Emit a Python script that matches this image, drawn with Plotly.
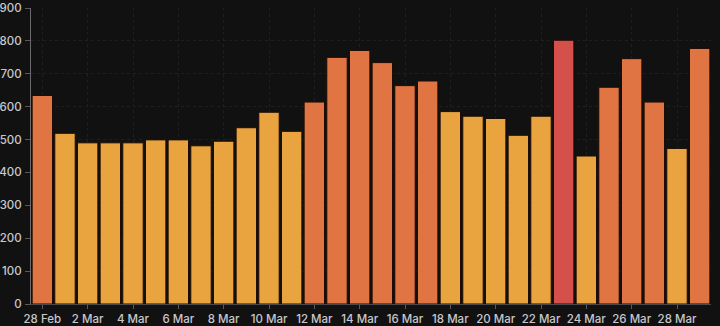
import plotly.graph_objects as go

# Daily totals, 28 Feb - 29 Mar
dates = [
    "2025-02-28", "2025-03-01", "2025-03-02", "2025-03-03", "2025-03-04",
    "2025-03-05", "2025-03-06", "2025-03-07", "2025-03-08", "2025-03-09",
    "2025-03-10", "2025-03-11", "2025-03-12", "2025-03-13", "2025-03-14",
    "2025-03-15", "2025-03-16", "2025-03-17", "2025-03-18", "2025-03-19",
    "2025-03-20", "2025-03-21", "2025-03-22", "2025-03-23", "2025-03-24",
    "2025-03-25", "2025-03-26", "2025-03-27", "2025-03-28", "2025-03-29",
]
values = [
    634, 519, 490, 490, 490, 499, 499, 481, 495, 536,
    583, 525, 614, 750, 771, 734, 664, 678, 585, 571,
    564, 513, 571, 802, 450, 659, 746, 614, 473, 777,
]

# Threshold colouring
YELLOW = "#E9A43F"
ORANGE = "#E07443"
RED = "#D6504B"


def bar_color(v):
    if v >= 800:
        return RED
    if v >= 600:
        return ORANGE
    return YELLOW


colors = [bar_color(v) for v in values]

fig = go.Figure(
    go.Bar(
        x=dates,
        y=values,
        marker=dict(color=colors, line=dict(color="#1c0c05", width=1)),
        hoverinfo="x+y",
    )
)

axis_font = dict(family="Inter, Roboto, sans-serif", size=11.5, color="#c8c8cc", weight=500)

fig.update_layout(
    width=720,
    height=326,
    margin=dict(l=31, r=9, t=8, b=22),
    paper_bgcolor="#111112",
    plot_bgcolor="#111112",
    bargap=0.1,
    showlegend=False,
    xaxis=dict(
        type="date",
        range=["2025-02-27 12:00", "2025-03-29 12:00"],
        tick0="2025-02-28",
        dtick=2 * 86400000,
        tickformat="%-d %b",
        ticks="outside",
        ticklen=4,
        tickcolor="#5a5a5e",
        showline=True,
        linecolor="#4a4a4e",
        linewidth=1,
        showgrid=True,
        gridcolor="#1f1f21",
        griddash="dot",
        tickfont=axis_font,
        automargin=False,
        fixedrange=True,
    ),
    yaxis=dict(
        range=[0, 900],
        dtick=100,
        ticks="outside",
        ticklen=5,
        tickcolor="#5a5a5e",
        showline=True,
        linecolor="#6a6a6e",
        linewidth=1,
        showgrid=True,
        gridcolor="#1f1f21",
        griddash="dot",
        zeroline=False,
        tickfont=axis_font,
        ticklabelstandoff=1,
        automargin=False,
        fixedrange=True,
    ),
)

fig.write_html("out.html")
